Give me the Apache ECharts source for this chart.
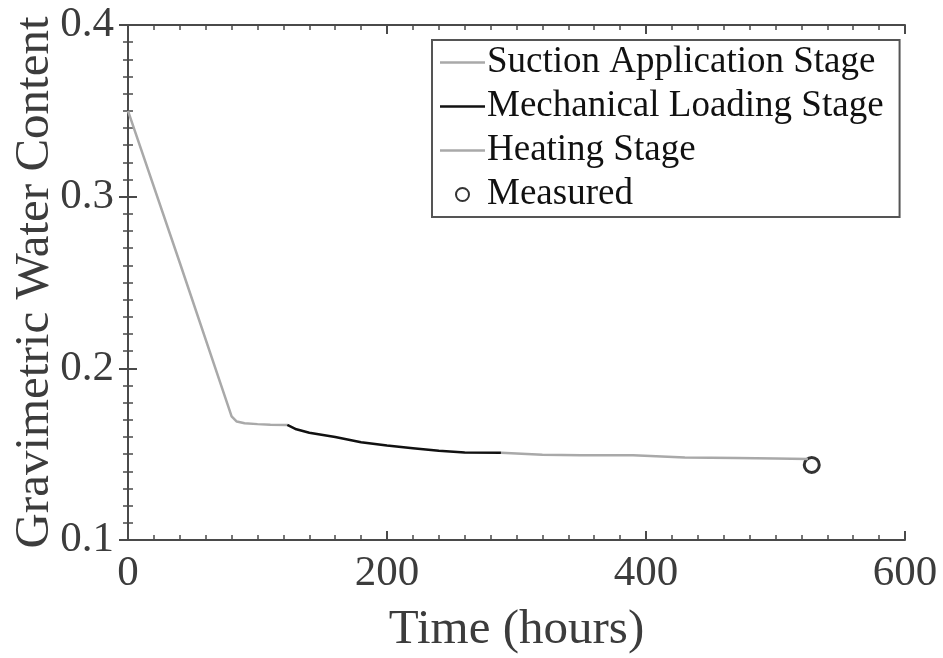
<!DOCTYPE html>
<html><head><meta charset="utf-8">
<script src="https://cdn.jsdelivr.net/npm/echarts@6/dist/echarts.min.js"></script>
<style>html,body{margin:0;padding:0;background:#fff}#c{width:943px;height:658px}</style>
</head><body><div id="c"></div>
<script>
const suctionT  = [0, 40, 80, 84, 90, 100, 110, 123];
const suctionW  = [0.350, 0.2615, 0.172, 0.169, 0.168, 0.1675, 0.1672, 0.167];
const mechT     = [123, 130, 140, 160, 180, 200, 220, 240, 260, 288];
const mechW     = [0.167, 0.1645, 0.1625, 0.160, 0.157, 0.155, 0.1535, 0.152, 0.151, 0.1508];
const heatT     = [288, 320, 350, 390, 430, 470, 500, 525];
const heatW     = [0.1508, 0.1497, 0.1493, 0.1493, 0.148, 0.1478, 0.1475, 0.1472];
const measT     = [528];
const measW     = [0.1437];
const xTicks    = [0, 200, 400, 600];
const yTicks    = [0.1, 0.2, 0.3, 0.4];

const zip = (a, b) => a.map((v, i) => [v, b[i]]);
const font = 'Liberation Serif';
const axCol = '#4a4a4a';
const txtCol = '#3c3c3c';
const lineIcon = 'path://M0,0 L45,0 L45,2.5 L0,2.5 Z';

const baseAxis = {
  axisLine: {show: true, lineStyle: {color: axCol, width: 2}},
  axisTick: {show: true, inside: true, length: 9, lineStyle: {color: axCol, width: 2}},
  minorTick: {show: true, splitNumber: 10, length: 5, lineStyle: {color: axCol, width: 1.5}},
  splitLine: {show: false},
};

const chart = echarts.init(document.getElementById('c'), null, {renderer: 'canvas'});
chart.setOption({
  animation: false,
  backgroundColor: '#fff',
  grid: {left: 128, right: 38, top: 25, bottom: 118, containLabel: false, outerBoundsMode: 'none'},
  xAxis: [
    Object.assign({}, baseAxis, {
      type: 'value', min: xTicks[0], max: xTicks[xTicks.length - 1], interval: 200, position: 'bottom',
      name: 'Time (hours)', nameLocation: 'middle', nameGap: 66, nameMoveOverlap: false,
      nameTextStyle: {fontFamily: font, fontSize: 49, color: txtCol},
      axisLabel: {fontFamily: font, fontSize: 43, color: txtCol, margin: 12}
    }),
    Object.assign({}, baseAxis, {
      type: 'value', min: xTicks[0], max: xTicks[xTicks.length - 1], interval: 200, position: 'top',
      axisLabel: {show: false}
    })
  ],
  yAxis: [
    Object.assign({}, baseAxis, {
      type: 'value', min: yTicks[0], max: yTicks[yTicks.length - 1], interval: 0.1, position: 'left',
      name: 'Gravimetric Water Content', nameLocation: 'middle', nameGap: 68, nameMoveOverlap: false,
      nameTextStyle: {fontFamily: font, fontSize: 49, color: txtCol},
      axisLabel: {fontFamily: font, fontSize: 43, color: txtCol, margin: 14,
        formatter: v => v.toFixed(1)}
    }),
    Object.assign({}, baseAxis, {
      type: 'value', min: yTicks[0], max: yTicks[yTicks.length - 1], interval: 0.1, position: 'right',
      axisLabel: {show: false}
    })
  ],
  legend: {
    orient: 'vertical', left: 432, top: 40,
    padding: [4, 16, 4, 8],
    itemGap: 7,
    itemWidth: 45, itemHeight: 13,
    backgroundColor: '#fff',
    borderColor: '#555', borderWidth: 2,
    textStyle: {fontFamily: font, fontSize: 37, color: '#111', lineHeight: 36, padding: [0, 0, 0, -3]},
    data: [
      {name: 'Suction Application Stage', icon: lineIcon},
      {name: 'Mechanical Loading Stage', icon: lineIcon},
      {name: 'Heating Stage', icon: lineIcon},
      {name: 'Measured', icon: 'circle'}
    ]
  },
  series: [
    {name: 'Suction Application Stage', type: 'line', data: zip(suctionT, suctionW), symbol: 'none',
     lineStyle: {color: '#a9a9a9', width: 2.5}, itemStyle: {color: '#a9a9a9'}},
    {name: 'Mechanical Loading Stage', type: 'line', data: zip(mechT, mechW), symbol: 'none',
     lineStyle: {color: '#111', width: 2.5}, itemStyle: {color: '#111'}},
    {name: 'Heating Stage', type: 'line', data: zip(heatT, heatW), symbol: 'none',
     lineStyle: {color: '#a9a9a9', width: 2.5}, itemStyle: {color: '#a9a9a9'}},
    {name: 'Measured', type: 'scatter', data: zip(measT, measW), symbol: 'circle', symbolSize: 15,
     itemStyle: {color: '#fff', borderColor: '#000', borderWidth: 3}}
  ]
});
</script></body></html>
